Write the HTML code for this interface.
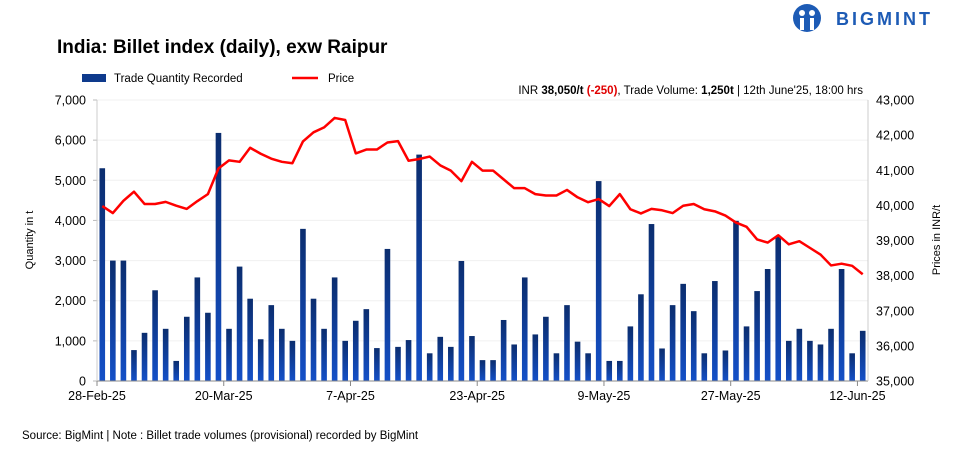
<!DOCTYPE html>
<html><head><meta charset="utf-8"><style>
body{margin:0;background:#fff;width:960px;height:448px;overflow:hidden;font-family:"Liberation Sans",sans-serif}
svg text{font-family:"Liberation Sans",sans-serif}
</style></head><body>
<svg id="chart" width="960" height="448" viewBox="0 0 960 448" xmlns="http://www.w3.org/2000/svg">
<defs><linearGradient id="bg" x1="0" y1="0" x2="0" y2="1"><stop offset="0" stop-color="#0b2d6e"/><stop offset="1" stop-color="#1450c8"/></linearGradient></defs>
<g>
<circle cx="807" cy="18" r="14" fill="#1d5bb5"/>
<circle cx="802" cy="13" r="3" fill="#fff"/><circle cx="812" cy="13" r="3" fill="#fff"/>
<rect x="800" y="18" width="4" height="12" fill="#fff"/><rect x="810" y="18" width="4" height="12" fill="#fff"/>
<text x="836" y="25" font-size="18" font-weight="bold" fill="#1d5bb5" letter-spacing="3">BIGMINT</text>
</g>
<text x="57" y="53" font-size="19" font-weight="bold" fill="#000">India: Billet index (daily), exw Raipur</text>
<g>
<rect x="82" y="74" width="24" height="8" fill="#0e3a8c"/>
<text x="114" y="82" font-size="11.5">Trade Quantity Recorded</text>
<line x1="292" y1="78" x2="318" y2="78" stroke="#f00" stroke-width="2.5"/>
<text x="328" y="82" font-size="11.5">Price</text>
</g>
<text x="863" y="94" font-size="11.5" text-anchor="end">INR <tspan font-weight="bold">38,050/t</tspan> <tspan font-weight="bold" fill="#e00000">(-250)</tspan>, Trade Volume: <tspan font-weight="bold">1,250t</tspan> | 12th June'25, 18:00 hrs</text>
<g id="grid"></g><g id="bars"></g><g id="line"></g><g id="axes"></g>
<text transform="translate(33,240) rotate(-90)" font-size="11" text-anchor="middle">Quantity in t</text>
<text transform="translate(940,240) rotate(-90)" font-size="11" text-anchor="middle">Prices in INR/t</text>
<text x="22" y="439" font-size="11.5">Source: BigMint | Note : Billet trade volumes (provisional) recorded by BigMint</text>
</svg>
<script>
const qty=[5300,3000,3000,770,1200,2260,1300,500,1600,2580,1700,6180,1300,2850,2050,1040,1890,1300,1000,3790,2050,1300,2580,1000,1500,1790,820,3290,850,1020,5640,690,1100,850,2990,1120,520,520,1520,910,2580,1160,1600,690,1890,980,690,4980,500,500,1360,2160,3910,810,1890,2420,1740,690,2490,760,3990,1360,2240,2790,3600,1000,1300,1000,910,1300,2790,690,1250];
const price=[39980,39780,40130,40390,40040,40040,40100,39990,39900,40120,40320,41050,41280,41240,41640,41470,41330,41240,41200,41820,42080,42220,42490,42430,41480,41590,41590,41790,41830,41270,41320,41390,41140,40990,40690,41240,40990,40990,40740,40490,40490,40320,40280,40280,40440,40230,40090,40180,39980,40320,39890,39770,39900,39860,39780,39990,40040,39890,39830,39710,39510,39390,39030,38940,39150,38890,38980,38790,38600,38290,38340,38280,38040];
const leftTicks=[0,1000,2000,3000,4000,5000,6000,7000];
const rightTicks=[35000,36000,37000,38000,39000,40000,41000,42000,43000];
const xLabels=["28-Feb-25","20-Mar-25","7-Apr-25","23-Apr-25","9-May-25","27-May-25","12-Jun-25"];
const NS="http://www.w3.org/2000/svg";
const X0=97,X1=868,Y0=381,Y1=100;
const n=qty.length, step=(X1-X0)/n;
const xc=i=>X0+(i+0.5)*step;
const yL=v=>Y0-(v-0)/7000*(Y0-Y1);
const yR=v=>Y0-(v-35000)/8000*(Y0-Y1);
function mk(t,a,p){const e=document.createElementNS(NS,t);for(const k in a)e.setAttribute(k,a[k]);document.getElementById(p).appendChild(e);return e;}
leftTicks.forEach(v=>{
 if(v>0){const g=mk('line',{x1:X0,x2:X1,y1:yL(v),y2:yL(v),stroke:'#f0f0f0','stroke-width':1},'grid');
 
 }
 const tk=mk('line',{x1:X0-4,x2:X0,y1:yL(v),y2:yL(v),stroke:'#bbb'},'axes');
 
 
 const t=mk('text',{x:86,y:yL(v)+4.5,'font-size':12.5,'text-anchor':'end'},'axes');t.textContent=v.toLocaleString('en-US');
 
 
});
rightTicks.forEach(v=>{
 const t=mk('text',{x:876,y:yR(v)+4.5,'font-size':12.5},'axes');t.textContent=v.toLocaleString('en-US');
 
 
});
qty.forEach((v,i)=>{
 const b=mk('rect',{x:xc(i)-2.8,y:yL(v),width:5.6,height:Y0-yL(v),fill:'url(#bg)'},'bars');
 
 
});
const pl=mk('polyline',{points:price.map((v,i)=>xc(i)+','+yR(v)).join(' '),fill:'none',stroke:'#f00','stroke-width':2.5,'stroke-linejoin':'round'},'line');


const ax=mk('line',{x1:X0,x2:X1,y1:Y0,y2:Y0,stroke:'#888','stroke-width':1},'axes');


const la=mk('line',{x1:X0,x2:X0,y1:Y1,y2:Y0,stroke:'#ccc','stroke-width':1},'axes');


const ra=mk('line',{x1:X1,x2:X1,y1:Y1,y2:Y0,stroke:'#ccc','stroke-width':1},'axes');


xLabels.forEach((l,k)=>{
 const x=X0+k*12*step;
 const tk=mk('line',{x1:x,x2:x,y1:Y0,y2:Y0+5,stroke:'#888'},'axes');
 
 
 const t=mk('text',{x:x,y:Y0+19,'font-size':12.5,'text-anchor':'middle'},'axes');t.textContent=l;
 
 
});
</script>
</body></html>
